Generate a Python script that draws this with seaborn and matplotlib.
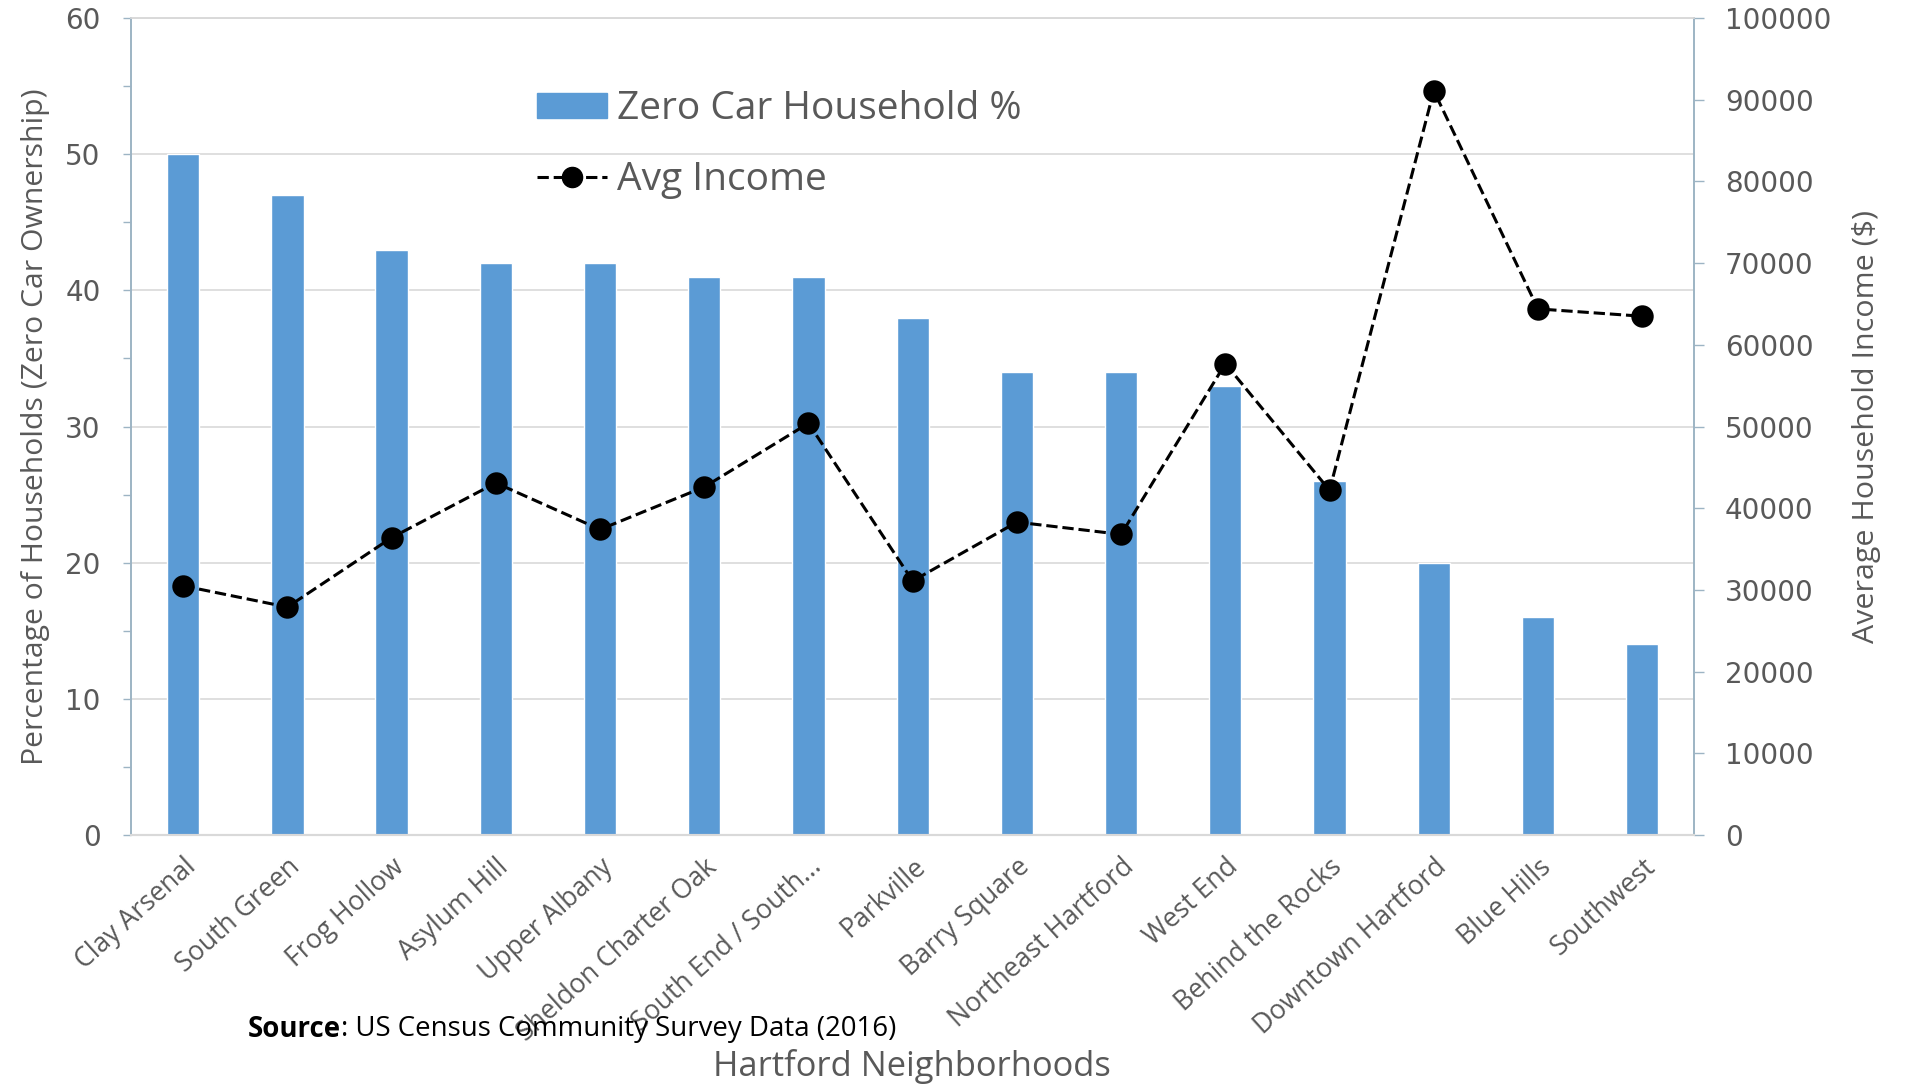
import matplotlib
matplotlib.use("Agg")
import matplotlib.pyplot as plt
import seaborn as sns
import pandas as pd
from matplotlib.patches import Patch
from matplotlib.lines import Line2D
from matplotlib.ticker import MultipleLocator

neighborhoods = ["Clay Arsenal", "South Green", "Frog Hollow", "Asylum Hill", "Upper Albany",
                 "Sheldon Charter Oak", "South End / South...", "Parkville", "Barry Square",
                 "Northeast Hartford", "West End", "Behind the Rocks", "Downtown Hartford",
                 "Blue Hills", "Southwest"]
zero_car_pct = [50, 47, 43, 42, 42, 41, 41, 38, 34, 34, 33, 26, 20, 16, 14]
avg_income = [30500, 27900, 36400, 43100, 37400, 42600, 50400, 31100, 38300, 36800,
              57700, 42200, 91100, 64400, 63500]
left_ticks = [0, 10, 20, 30, 40, 50, 60]
right_ticks = [0, 10000, 20000, 30000, 40000, 50000, 60000, 70000, 80000, 90000, 100000]

df = pd.DataFrame({"Neighborhood": neighborhoods, "Pct": zero_car_pct, "Income": avg_income})

sns.set_theme(style="white")
plt.rcParams["font.family"] = ["Open Sans", "DejaVu Sans"]

BAR = "#5B9BD5"
GREY = "#595959"
SPINE = "#9DB4C4"
GRID = "#D9D9D9"

fig = plt.figure(figsize=(19.08, 10.87), dpi=100)
ax = fig.add_axes([0.0687, 0.2318, 0.8193, 0.7516])

sns.barplot(data=df, x="Neighborhood", y="Pct", color=BAR, width=0.31, saturation=1,
            ax=ax, zorder=2)
ax.set_ylim(0, 60)
ax.set_xlim(-0.5, len(neighborhoods) - 0.5)
ax.set_yticks(left_ticks)
ax.yaxis.set_minor_locator(MultipleLocator(5))
ax.grid(axis="y", color=GRID, linewidth=1.2, zorder=0)
ax.set_axisbelow(True)

ax2 = ax.twinx()
sns.pointplot(data=df, x="Neighborhood", y="Income", color="black", linestyles="--",
              markers="o", markersize=14.5, linewidth=2.2, ax=ax2)
ax2.set_ylim(0, 100000)
ax2.set_yticks(right_ticks)
ax2.set_xlim(-0.5, len(neighborhoods) - 0.5)

for a in (ax, ax2):
    for s in a.spines.values():
        s.set_color(SPINE)
        s.set_linewidth(1.2)
    a.spines["top"].set_color(GRID)
    a.spines["bottom"].set_color(GRID)
    a.spines["bottom"].set_linewidth(1.5)

ax.tick_params(axis="y", which="both", left=True, length=6, color=SPINE, width=1, pad=16,
               labelsize=20, labelcolor=GREY)
ax.tick_params(axis="y", which="minor", length=6)
ax2.tick_params(axis="y", right=True, length=7, color=SPINE, width=1, pad=15,
                labelsize=20, labelcolor=GREY)
for lab in ax.get_yticklabels() + ax2.get_yticklabels():
    lab.set_family("DejaVu Sans")

ax.set_xticks(range(len(neighborhoods)))
ax.set_xticklabels(neighborhoods, rotation=42, ha="right", rotation_mode="anchor",
                   fontsize=19.2, color=GREY)
ax.tick_params(axis="x", bottom=False, pad=7)
ax2.tick_params(axis="x", bottom=False, top=False, labelbottom=False)

ax.set_xlabel("")
ax.set_ylabel("Percentage of Households (Zero Car Ownership)", fontsize=21.7, color=GREY)
ax2.set_ylabel("Average Household Income ($)", fontsize=21.9, color=GREY)
ax2.yaxis.set_label_coords(1.101, 0.5)
ax.yaxis.set_label_coords(-0.052, 0.5)

fig.text(0.478, 0.019, "Hartford Neighborhoods", fontsize=24.8, color=GREY, ha="center",
         va="center")
t1 = fig.text(0.130, 0.053, "Source", fontsize=19.9, color="black", fontweight="bold",
              ha="left", va="center")
fig.canvas.draw()
bb = t1.get_window_extent()
fig.text(bb.x1 / fig.bbox.width, 0.053, ": US Census Community Survey Data (2016)",
         fontsize=19.9, color="black", ha="left", va="center")

handles = [Patch(facecolor=BAR, edgecolor=BAR),
           Line2D([0], [0], color="black", linestyle="--", linewidth=2.2, marker="o",
                  markersize=14.5)]
leg = fig.legend(handles, ["Zero Car Household %", "Avg Income"], loc="upper left",
                 bbox_to_anchor=(0.2715, 0.935), frameon=False, fontsize=28,
                 handlelength=1.8, handleheight=0.6, handletextpad=0.25, labelspacing=0.85,
                 borderpad=0)
for t in leg.get_texts():
    t.set_color(GREY)

fig.savefig("out.png", dpi=100)
